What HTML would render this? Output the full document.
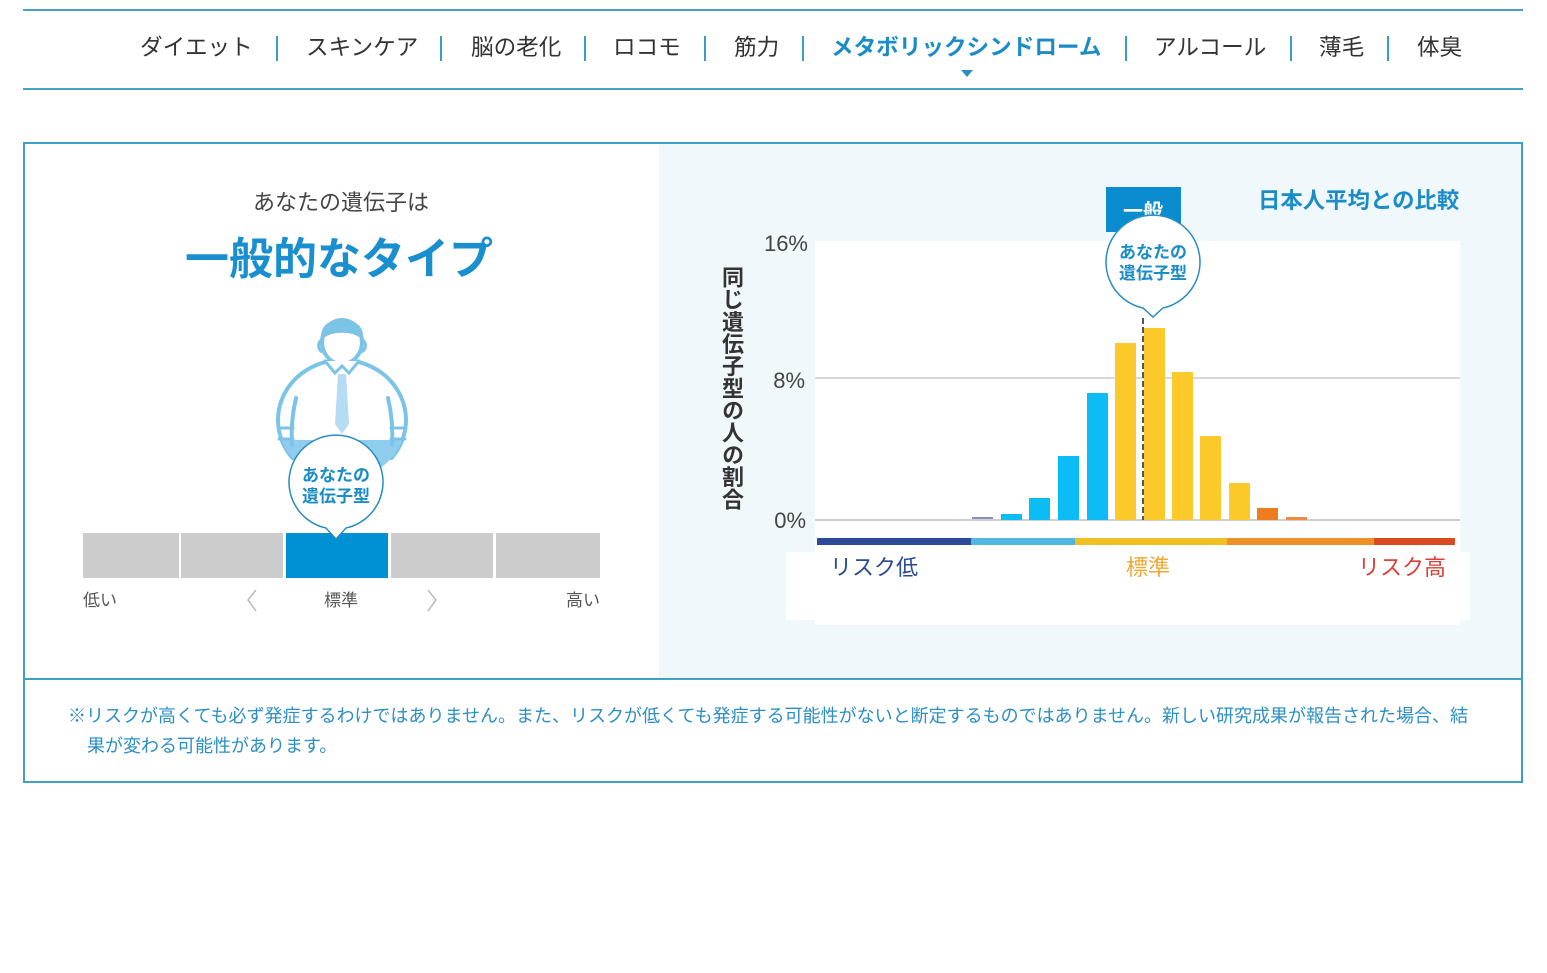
<!DOCTYPE html>
<html><head><meta charset="utf-8"><style>
html,body{margin:0;padding:0;background:#fff;}
#wrap{position:relative;width:1547px;height:973px;overflow:hidden;font-family:"Liberation Sans","Noto Sans CJK JP",sans-serif;}
svg{position:absolute;left:0;top:0;}
svg text{font-family:"Liberation Sans","Noto Sans CJK JP",sans-serif;}
.vlab{position:absolute;left:719px;top:266px;writing-mode:vertical-rl;font-size:22px;line-height:24px;font-weight:bold;color:#333;letter-spacing:0.2px;font-family:"Liberation Sans","Noto Sans CJK JP",sans-serif;}
</style></head><body><div id="wrap">
<svg width="1547" height="973" viewBox="0 0 1547 973">
<defs>
<clipPath id="bodyclip"><rect x="260" y="350" width="170" height="110"/></clipPath>
<clipPath id="ellclip"><ellipse cx="342" cy="420" rx="64" ry="60"/></clipPath>
</defs>
<!-- nav lines -->
<rect x="23" y="9" width="1500" height="2" fill="#46a0c6"/>
<rect x="23" y="88" width="1500" height="2" fill="#46a0c6"/>
<g font-size="22.6" fill="#333">
<text x="140" y="55">ダイエット</text>
<text x="306" y="55">スキンケア</text>
<text x="471" y="55">脳の老化</text>
<text x="613" y="55">ロコモ</text>
<text x="734" y="55">筋力</text>
<text x="831" y="55" font-weight="bold" fill="#1b8cc6">メタボリックシンドローム</text>
<text x="1154" y="55">アルコール</text>
<text x="1319" y="55">薄毛</text>
<text x="1417" y="55">体臭</text>
</g>
<g fill="#3a9cc8">
<rect x="276" y="36" width="2" height="25"/>
<rect x="440" y="36" width="2" height="25"/>
<rect x="584" y="36" width="2" height="25"/>
<rect x="704" y="36" width="2" height="25"/>
<rect x="802" y="36" width="2" height="25"/>
<rect x="1125" y="36" width="2" height="25"/>
<rect x="1290" y="36" width="2" height="25"/>
<rect x="1387" y="36" width="2" height="25"/>
</g>
<polygon points="961,70 973,70 967,77" fill="#2a8cc0"/>

<!-- main box -->
<rect x="659" y="143" width="863" height="536" fill="#f0f8fc"/>
<rect x="24" y="143" width="1498" height="639" fill="none" stroke="#3f9fc8" stroke-width="2"/>
<line x1="24" y1="679" x2="1522" y2="679" stroke="#3f9fc8" stroke-width="2"/>

<!-- left texts -->
<text x="341" y="210" font-size="22" fill="#444" text-anchor="middle">あなたの遺伝子は</text>
<text x="339" y="274" font-size="44" font-weight="bold" fill="#1a8fd0" text-anchor="middle">一般的なタイプ</text>

<!-- figure -->
<g clip-path="url(#bodyclip)">
<ellipse cx="342" cy="420" rx="64" ry="60" fill="#fff" stroke="#7cc3e8" stroke-width="4"/>
</g>
<rect x="280" y="440" width="124" height="40" fill="#8fcdee" clip-path="url(#ellclip)"/>
<g stroke="#7cc3e8" stroke-width="4" fill="none" stroke-linecap="round">
<path d="M296 398 C292 415 291 430 292 445"/>
<path d="M388 398 C392 415 393 430 392 445"/>
<path d="M279 428 L293 428 M279 439 L293 439 M391 428 L405 428 M391 439 L405 439" stroke-width="3"/>
<ellipse cx="342" cy="342" rx="20" ry="22" fill="#fff"/>
<path d="M323 336 C323 316 361 316 361 336 C352 329 332 329 323 336 Z" fill="#7cc3e8"/>
<path d="M323 340 C317 340 317 352 324 352 M361 340 C367 340 367 352 360 352" stroke-width="3"/>
<path d="M325 361 L335 373 L342 366 L349 373 L359 361" stroke-width="3" fill="#fff"/>
</g>
<polygon points="338,374 346,374 349,424 342,434 335,424" fill="#b5dcf3"/>

<!-- scale bar -->
<rect x="83" y="533" width="96" height="45" fill="#cccccc"/>
<rect x="181" y="533" width="102" height="45" fill="#cccccc"/>
<rect x="286" y="533" width="102" height="45" fill="#0090d4"/>
<rect x="391" y="533" width="102" height="45" fill="#cccccc"/>
<rect x="496" y="533" width="104" height="45" fill="#cccccc"/>

<!-- left bubble -->
<path d="M326 528 A47 47 0 1 1 346 528 L336 539 Z" fill="#fff" stroke="#2a8cc0" stroke-width="1.5"/>
<text x="336" y="481" font-size="17" font-weight="bold" fill="#1b8cc6" text-anchor="middle">あなたの</text>
<text x="336" y="502" font-size="17" font-weight="bold" fill="#1b8cc6" text-anchor="middle">遺伝子型</text>

<!-- scale labels -->
<g font-size="17" fill="#555">
<text x="83" y="606">低い</text>
<text x="341" y="606" text-anchor="middle">標準</text>
<text x="600" y="606" text-anchor="end">高い</text>
</g>
<polyline points="256,590 248,600 256,611" fill="none" stroke="#bbb" stroke-width="1.5"/>
<polyline points="428,590 436,600 428,611" fill="none" stroke="#bbb" stroke-width="1.5"/>

<!-- chart -->
<rect x="815" y="241" width="645" height="384" fill="#fff"/>
<rect x="786" y="552" width="684" height="68" fill="#fff"/>
<text x="1258" y="208" font-size="22.4" font-weight="bold" fill="#1b8cc6">日本人平均との比較</text>
<rect x="1106" y="187" width="75" height="45" fill="#0b8bd0"/>
<text x="1143" y="218" font-size="20" font-weight="bold" fill="#fff" text-anchor="middle">一般</text>

<g font-size="22" fill="#444">
<text x="808" y="251" text-anchor="end">16%</text>
<text x="805" y="388" text-anchor="end">8%</text>
<text x="806" y="528" text-anchor="end">0%</text>
</g>
<line x1="815" y1="378" x2="1460" y2="378" stroke="#d8d8d8" stroke-width="2"/>
<line x1="815" y1="520" x2="1460" y2="520" stroke="#cfcfcf" stroke-width="2"/>

<g>
<rect x="972" y="517" width="21" height="2" fill="#8890c0"/>
<rect x="1001" y="514" width="21" height="6" fill="#0cbcf5"/>
<rect x="1029" y="498" width="21" height="22" fill="#0cbcf5"/>
<rect x="1058" y="456" width="21" height="64" fill="#0cbcf5"/>
<rect x="1087" y="393" width="21" height="127" fill="#0cbcf5"/>
<rect x="1115" y="343" width="21" height="177" fill="#fcc92a"/>
<rect x="1144" y="328" width="21" height="192" fill="#fcc92a"/>
<rect x="1172" y="372" width="21" height="148" fill="#fcc92a"/>
<rect x="1200" y="436" width="21" height="84" fill="#fcc92a"/>
<rect x="1229" y="483" width="21" height="37" fill="#fcc92a"/>
<rect x="1257" y="508" width="21" height="12" fill="#f07c20"/>
<rect x="1286" y="517" width="21" height="3" fill="#f08a40"/>
</g>
<line x1="1143" y1="318" x2="1143" y2="520" stroke="#555" stroke-width="2" stroke-dasharray="6 3"/>

<!-- chart bubble -->
<path d="M1143 308 A47 47 0 1 1 1163 308 L1153 317 Z" fill="#fff" stroke="#2a8cc0" stroke-width="1.5"/>
<text x="1153" y="258" font-size="17" font-weight="bold" fill="#1b8cc6" text-anchor="middle">あなたの</text>
<text x="1153" y="279" font-size="17" font-weight="bold" fill="#1b8cc6" text-anchor="middle">遺伝子型</text>

<!-- color bar -->
<rect x="817" y="538" width="154" height="7" fill="#2b4a9a"/>
<rect x="971" y="538" width="104" height="7" fill="#50b8e0"/>
<rect x="1075" y="538" width="152" height="7" fill="#f0c020"/>
<rect x="1227" y="538" width="147" height="7" fill="#ee9028"/>
<rect x="1374" y="538" width="81" height="7" fill="#d84a20"/>
<g font-size="22">
<text x="830" y="575" fill="#2a4a94">リスク低</text>
<text x="1148" y="575" fill="#f0a832" text-anchor="middle">標準</text>
<text x="1446" y="575" fill="#d8403a" text-anchor="end">リスク高</text>
</g>

<!-- footer -->
<g font-size="18" fill="#2b8fc4">
<text x="68" y="722">※リスクが高くても必ず発症するわけではありません。また、リスクが低くても発症する可能性がないと断定するものではありません。新しい研究成果が報告された場合、結</text>
<text x="87" y="752">果が変わる可能性があります。</text>
</g>
</svg>
<div class="vlab">同じ遺伝子型の人の割合</div>
</div></body></html>
